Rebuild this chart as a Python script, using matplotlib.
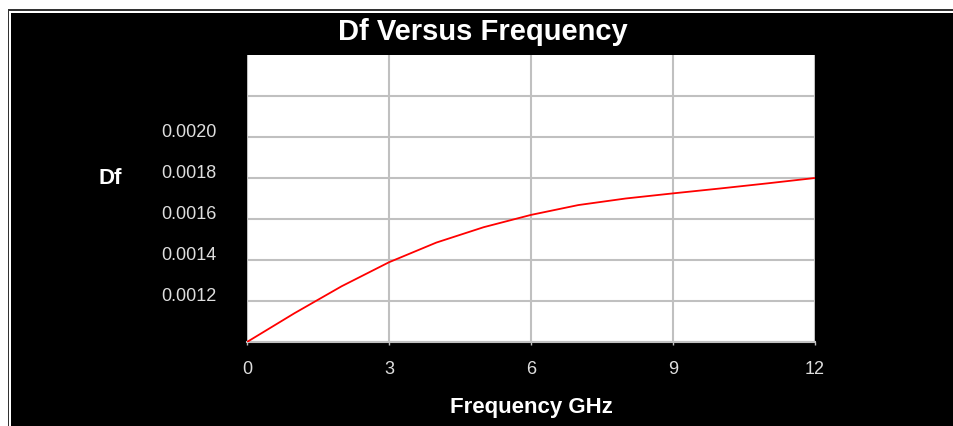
"""Df versus frequency line chart on a black slide-style background."""
import matplotlib
matplotlib.use("Agg")
import matplotlib.pyplot as plt
from matplotlib.patches import Rectangle

# data
freq_ghz = [0, 1, 2, 3, 4, 5, 6, 7, 8, 9, 10, 11, 12]
df_vals = [0.00100, 0.00114, 0.001272, 0.001389, 0.001485, 0.00156, 0.00162,
           0.001668, 0.00170, 0.001725, 0.001749, 0.001774, 0.00180]

x_ticks = [0, 3, 6, 9, 12]
y_ticks = [0.0010, 0.0012, 0.0014, 0.0016, 0.0018, 0.0020, 0.0022]
y_tick_labels = ["", "0.0012", "0.0014", "0.0016", "0.0018", "0.0020", ""]

W, H = 954, 426
SANS = ["Liberation Sans", "DejaVu Sans"]
GRID = "#c0c0c0"
LABEL = "#dedede"


def px_rect(x0, y0_top, x1, y1_top, color):
    # rectangle given in pixel coords (origin top-left)
    return Rectangle((x0 / W, 1 - y1_top / H), (x1 - x0) / W, (y1_top - y0_top) / H,
                     transform=fig.transFigure, facecolor=color, edgecolor="none",
                     zorder=-10)


fig = plt.figure(figsize=(W / 100, H / 100), dpi=100)
fig.patch.set_facecolor("white")

# framed black panel
fig.patches.append(px_rect(8, 9, W, H, "#333333"))
fig.patches.append(px_rect(9.5, 10.5, W, H, "white"))
fig.patches.append(px_rect(11, 12.5, W, H, "black"))

ax = fig.add_axes([247 / W, 1 - 342 / H, 568 / W, 287 / H])
ax.set_facecolor("white")

ax.plot(freq_ghz, df_vals, color="#ff0000", lw=1.3, zorder=3)

ax.set_xlim(0, 12)
ax.set_ylim(0.0010, 0.0024)
ax.set_xticks(x_ticks)
ax.set_xticklabels([str(t) for t in x_ticks], family=SANS, fontsize=13, color=LABEL)
ax.set_yticks(y_ticks)
ax.set_yticklabels(y_tick_labels, family=SANS, fontsize=13, color=LABEL,
                   va="baseline")
ax.tick_params(axis="y", length=0, pad=22)
ax.tick_params(axis="x", length=2, width=1, color=GRID, pad=12)

ax.grid(True, color=GRID, linewidth=1.5, zorder=1)
ax.set_axisbelow(True)
for side in ("top", "right", "left"):
    ax.spines[side].set_visible(False)
ax.spines["bottom"].set_color(GRID)
ax.spines["bottom"].set_linewidth(1.5)

fig.text(483 / W, 1 - 32 / H, "Df Versus Frequency", ha="center", va="center",
         family=SANS, fontweight="bold", fontsize=21, color="white")
fig.text(110 / W, 1 - 178 / H, "Df", ha="center", va="center",
         family=SANS, fontweight="bold", fontsize=16, color="white")
fig.text(531 / W, 1 - 407 / H, "Frequency GHz", ha="center", va="center",
         family=SANS, fontweight="bold", fontsize=16, color="white")

fig.savefig("out.png", dpi=100, facecolor=fig.get_facecolor())
